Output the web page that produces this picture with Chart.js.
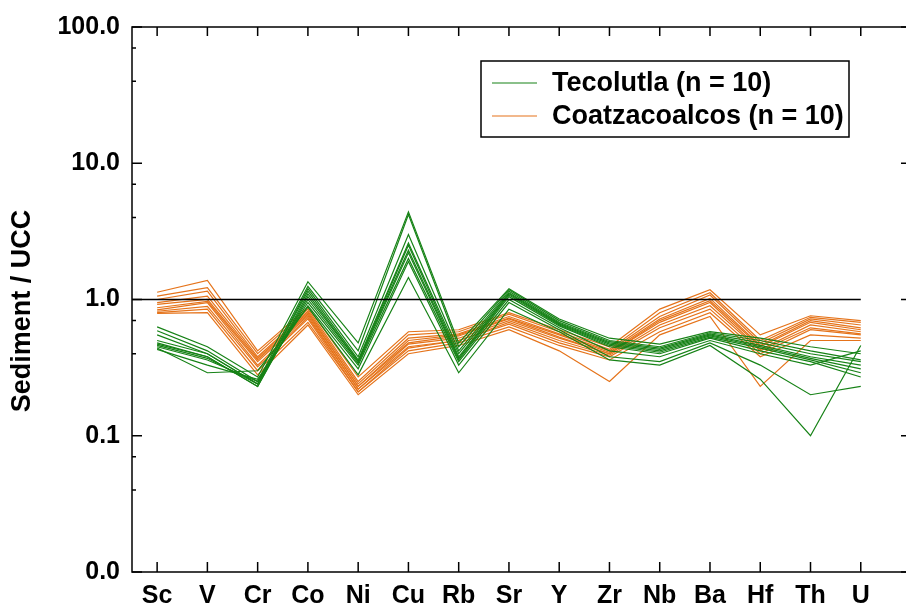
<!DOCTYPE html>
<html>
<head>
<meta charset="utf-8">
<script src="https://cdn.jsdelivr.net/npm/chart.js@4.4.0/dist/chart.umd.min.js"></script>
<style>
    html, body { margin: 0; padding: 0; background: #fff; overflow: hidden; }
    #spider { display: block; }
</style>
</head>
<body>
<canvas id="spider" width="906" height="612"></canvas>
<script>
var elements = ['Sc', 'V', 'Cr', 'Co', 'Ni', 'Cu', 'Rb', 'Sr', 'Y', 'Zr', 'Nb', 'Ba', 'Hf', 'Th', 'U'];

// sediment / UCC ratios, one row per sample, columns follow `elements`
var tecolutla = [
    [0.63, 0.45, 0.27, 1.35, 0.48, 4.4, 0.48, 1.20, 0.72, 0.52, 0.47, 0.58, 0.52, 0.45, 0.40],
    [0.59, 0.42, 0.25, 1.25, 0.42, 4.2, 0.45, 1.18, 0.70, 0.50, 0.45, 0.57, 0.50, 0.42, 0.36],
    [0.55, 0.40, 0.24, 1.20, 0.38, 3.0, 0.42, 1.15, 0.68, 0.49, 0.44, 0.56, 0.48, 0.40, 0.35],
    [0.50, 0.40, 0.24, 1.15, 0.36, 2.6, 0.40, 1.12, 0.67, 0.48, 0.43, 0.55, 0.46, 0.38, 0.33],
    [0.48, 0.38, 0.23, 1.10, 0.35, 2.5, 0.38, 1.10, 0.66, 0.47, 0.42, 0.54, 0.45, 0.37, 0.31],
    [0.47, 0.38, 0.23, 1.05, 0.35, 2.3, 0.37, 1.08, 0.65, 0.46, 0.41, 0.53, 0.44, 0.36, 0.29],
    [0.46, 0.37, 0.24, 1.00, 0.34, 2.2, 0.36, 1.05, 0.64, 0.45, 0.40, 0.52, 0.42, 0.35, 0.27],
    [0.45, 0.36, 0.25, 0.95, 0.33, 2.0, 0.35, 1.00, 0.62, 0.42, 0.38, 0.50, 0.40, 0.33, 0.42],
    [0.43, 0.33, 0.26, 0.90, 0.31, 1.9, 0.33, 0.95, 0.60, 0.38, 0.35, 0.48, 0.33, 0.20, 0.23],
    [0.44, 0.29, 0.30, 0.88, 0.28, 1.45, 0.29, 0.85, 0.58, 0.36, 0.33, 0.46, 0.26, 0.10, 0.46]
];

var coatzacoalcos = [
    [1.13, 1.38, 0.42, 0.88, 0.27, 0.58, 0.60, 0.80, 0.60, 0.45, 0.85, 1.18, 0.55, 0.76, 0.70],
    [1.06, 1.22, 0.40, 0.85, 0.25, 0.55, 0.58, 0.78, 0.58, 0.43, 0.80, 1.12, 0.50, 0.74, 0.68],
    [1.00, 1.15, 0.38, 0.82, 0.24, 0.52, 0.56, 0.75, 0.56, 0.42, 0.75, 1.08, 0.48, 0.72, 0.65],
    [0.95, 1.06, 0.37, 0.80, 0.23, 0.50, 0.55, 0.73, 0.55, 0.41, 0.72, 1.02, 0.46, 0.70, 0.62],
    [0.92, 1.00, 0.36, 0.78, 0.23, 0.48, 0.54, 0.72, 0.53, 0.40, 0.70, 0.98, 0.45, 0.68, 0.60],
    [0.87, 0.97, 0.35, 0.76, 0.22, 0.47, 0.52, 0.70, 0.52, 0.40, 0.68, 0.95, 0.43, 0.65, 0.58],
    [0.84, 0.95, 0.33, 0.74, 0.22, 0.45, 0.50, 0.68, 0.50, 0.39, 0.65, 0.90, 0.42, 0.62, 0.56],
    [0.82, 0.89, 0.32, 0.72, 0.21, 0.44, 0.50, 0.66, 0.48, 0.38, 0.62, 0.85, 0.40, 0.60, 0.55],
    [0.80, 0.85, 0.30, 0.68, 0.21, 0.42, 0.48, 0.63, 0.46, 0.36, 0.58, 0.80, 0.38, 0.55, 0.52],
    [0.79, 0.80, 0.28, 0.65, 0.20, 0.40, 0.46, 0.60, 0.42, 0.25, 0.55, 0.75, 0.23, 0.50, 0.50]
];

var yMajor = [0.01, 0.1, 1, 10, 100];
var yMinor = [0.04, 0.07, 0.4, 0.7, 4, 7, 40, 70];

var groups = [
    { label: 'Tecolutla (n = 10)', rows: tecolutla, color: '#168216' },
    { label: 'Coatzacoalcos (n = 10)', rows: coatzacoalcos, color: '#e5731a' }
];

var fontFamily = "'Liberation Sans', Arial, Helvetica, sans-serif";

function toPoints(row) {
    return row.map(function (v, i) { return { x: i + 1, y: v }; });
}

var datasets = [];
// reference line at UCC = 1
datasets.push({
    data: [{ x: 0.5, y: 1 }, { x: elements.length, y: 1 }],
    borderColor: '#000',
    borderWidth: 1.5,
    pointRadius: 0
});
groups.forEach(function (g) {
    g.rows.forEach(function (row) {
        datasets.push({
            data: toPoints(row),
            borderColor: g.color,
            borderWidth: 1.2,
            pointRadius: 0,
            tension: 0
        });
    });
});

// frame, inward ticks, boxed legend and y title
var decorations = {
    id: 'decorations',
    afterDraw: function (chart) {
        var ctx = chart.ctx;
        var a = chart.chartArea;
        var x = chart.scales.x;
        var y = chart.scales.y;
        var rightEdge = a.right + 5; // right axis falls just off the canvas
        ctx.save();
        ctx.strokeStyle = '#000';
        ctx.lineWidth = 1.5;
        ctx.beginPath();
        ctx.moveTo(rightEdge, a.top);
        ctx.lineTo(a.left, a.top);
        ctx.lineTo(a.left, a.bottom);
        ctx.lineTo(rightEdge, a.bottom);
        ctx.stroke();

        ctx.beginPath();
        elements.forEach(function (el, i) {
            var px = x.getPixelForValue(i + 1);
            ctx.moveTo(px, a.bottom);
            ctx.lineTo(px, a.bottom - 10);
            ctx.moveTo(px, a.top);
            ctx.lineTo(px, a.top + 9);
        });
        yMajor.forEach(function (v) {
            var py = y.getPixelForValue(v);
            ctx.moveTo(a.left, py);
            ctx.lineTo(a.left + 10, py);
            ctx.moveTo(rightEdge, py);
            ctx.lineTo(rightEdge - 10, py);
        });
        yMinor.forEach(function (v) {
            var py = y.getPixelForValue(v);
            ctx.moveTo(a.left, py);
            ctx.lineTo(a.left + 4, py);
            ctx.moveTo(rightEdge, py);
            ctx.lineTo(rightEdge - 4, py);
        });
        ctx.stroke();

        // legend
        ctx.lineWidth = 1.5;
        ctx.strokeRect(481, 61, 368, 76);
        ctx.font = 'bold 27px ' + fontFamily;
        ctx.fillStyle = '#000';
        ctx.textAlign = 'left';
        ctx.textBaseline = 'middle';
        groups.forEach(function (g, i) {
            var ly = 83 + i * 33;
            ctx.strokeStyle = g.color;
            ctx.lineWidth = 1.2;
            ctx.beginPath();
            ctx.moveTo(492, ly);
            ctx.lineTo(537, ly);
            ctx.stroke();
            ctx.fillText(g.label, 552, ly + 1);
        });

        // axis title
        ctx.translate(23, 311);
        ctx.rotate(-Math.PI / 2);
        ctx.textAlign = 'center';
        ctx.font = 'bold 27px ' + fontFamily;
        ctx.fillText('Sediment / UCC', 0, 0);
        ctx.restore();
    }
};

var ctx = document.getElementById('spider').getContext('2d');
var spiderChart = new Chart(ctx, {
    type: 'line',
    data: { datasets: datasets },
    plugins: [decorations],
    options: {
        responsive: false,
        animation: false,
        layout: { padding: { top: 25, right: 0, left: 0, bottom: 0 } },
        plugins: {
            legend: { display: false },
            tooltip: { enabled: false }
        },
        scales: {
            x: {
                type: 'linear',
                min: 0.5,
                max: 15.9,
                afterBuildTicks: function (scale) {
                    scale.ticks = elements.map(function (el, i) { return { value: i + 1 }; });
                },
                afterFit: function (scale) { scale.height = 40; },
                grid: { display: false, drawTicks: false },
                border: { display: false },
                ticks: {
                    autoSkip: false,
                    maxRotation: 0,
                    padding: 9,
                    color: '#000',
                    font: { family: fontFamily, size: 25, weight: 'bold' },
                    callback: function (v) { return elements[v - 1]; }
                }
            },
            y: {
                type: 'logarithmic',
                min: 0.01,
                max: 100,
                afterBuildTicks: function (scale) {
                    scale.ticks = yMajor.concat(yMinor).sort(function (p, q) { return p - q; })
                        .map(function (v) { return { value: v }; });
                },
                afterFit: function (scale) { scale.width = 132; },
                grid: { display: false, drawTicks: false },
                border: { display: false },
                ticks: {
                    autoSkip: false,
                    padding: 12,
                    color: '#000',
                    font: { family: fontFamily, size: 25, weight: 'bold' },
                    callback: function (v) { return yMajor.indexOf(v) >= 0 ? v.toFixed(1) : ''; }
                }
            }
        }
    }
});
</script>
</body>
</html>
